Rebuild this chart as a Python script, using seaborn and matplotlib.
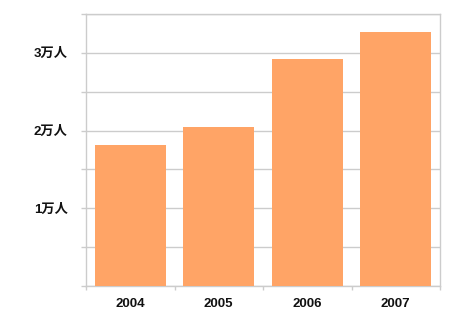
import matplotlib
matplotlib.use("Agg")
import matplotlib.pyplot as plt
import seaborn as sns
import pandas as pd
from matplotlib.ticker import MultipleLocator, FixedLocator

years = ["2004", "2005", "2006", "2007"]
visitors = [18200, 20500, 29200, 32700]
ytick_values = [10000, 20000, 30000]
ytick_labels = ["1万人", "2万人", "3万人"]

sns.set_theme(style="white")
plt.rcParams['font.family'] = ['Liberation Sans', 'Noto Sans CJK JP', 'DejaVu Sans']
plt.rcParams['xtick.bottom'] = True
plt.rcParams['ytick.left'] = True

df = pd.DataFrame({"year": years, "visitors": visitors})

fig = plt.figure(figsize=(4.5, 3.2), dpi=100)
ax = fig.add_axes([86/450, 1-286/320, (440-86)/450, (286-14)/320])
sns.barplot(data=df, x="year", y="visitors", color="#FFA466", saturation=1,
            width=0.8, ax=ax, zorder=3, linewidth=0)

ax.set_ylim(0, 35000)
ax.set_xlim(-0.5, 3.5)
ax.yaxis.set_major_locator(FixedLocator(ytick_values))
ax.set_yticklabels(ytick_labels)
ax.yaxis.set_minor_locator(MultipleLocator(5000))
ax.grid(True, axis="y", which="both", color="#cccccc", linewidth=1, zorder=0)
ax.set_axisbelow(True)

ax.xaxis.set_minor_locator(FixedLocator([-0.5, 0.5, 1.5, 2.5, 3.5]))
ax.tick_params(axis="x", which="major", bottom=True, length=0, pad=8.5, labelsize=9.5)
ax.tick_params(axis="x", which="minor", bottom=True, length=3, color="#cccccc", width=1, direction="out")
ax.tick_params(axis="y", which="both", left=True, length=3.6, color="#cccccc", width=1, direction="out", pad=9.5, labelsize=9.5)
for lab in ax.get_xticklabels() + ax.get_yticklabels():
    lab.set_fontweight("bold")
    lab.set_color("#111111")

for s in ax.spines.values():
    s.set_color("#cccccc")
    s.set_linewidth(1)
    s.set_visible(True)

ax.set_xlabel("")
ax.set_ylabel("")
fig.savefig("out.png", dpi=100)
